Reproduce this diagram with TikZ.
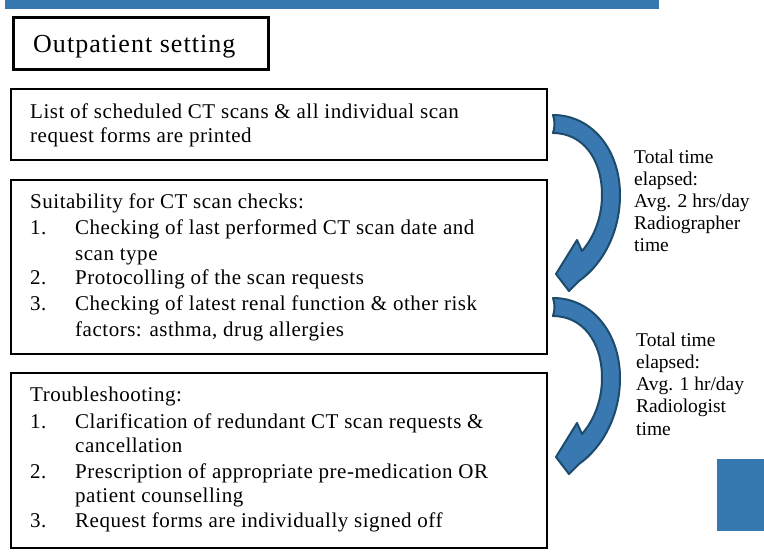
\documentclass[tikz,border=0pt]{standalone}
\usepackage{fontspec}
\setmainfont{Liberation Serif}
\newfontfamily\bodyfont[LetterSpace=2.5]{Liberation Serif}
\newfontfamily\titlefont[LetterSpace=4]{Liberation Serif}
\definecolor{barblue}{HTML}{3578B0}
\definecolor{arrowfill}{HTML}{3A78B1}
\definecolor{arrowedge}{HTML}{1D4B6B}
\tikzset{
  box/.style={draw=black, line width=2pt, anchor=north west, inner sep=0pt},
  txt/.style={anchor=base west, inner sep=0pt, font=\bodyfont\fontsize{21}{24}\selectfont},
  side/.style={anchor=base west, inner sep=0pt, font=\fontsize{19.5}{22}\selectfont},
  curvearrow/.style={fill=arrowfill, draw=arrowedge, line width=2pt, line join=round},
}
\newcommand{\myarrow}{%
  \path[curvearrow] (553,115) .. controls (592,115) and (620,150) .. (620,195)
    .. controls (620,232) and (603,264) .. (579,281)
    -- (569,291) -- (556,274) -- (577,240) -- (582,251)
    .. controls (595,236) and (602,216) .. (602,195)
    .. controls (602,158) and (582,133) .. (553,133)
    .. controls (555,127) and (555,121) .. cycle;}
\begin{document}
\begin{tikzpicture}[x=1pt,y=-1pt]
\useasboundingbox (0,0) rectangle (764,552);
\fill[white] (0,0) rectangle (764,552);
% top bar and corner block
\node[fill=barblue, anchor=north west, minimum width=654pt, minimum height=9pt, inner sep=0pt] (bar) at (5,0) {};
\node[fill=barblue, anchor=north west, minimum width=47pt, minimum height=72pt, inner sep=0pt] (block) at (717,459) {};
% title box
\node[box, line width=3pt, minimum width=255pt, minimum height=52pt] (title) at (12,16) {};
\node[anchor=base west, inner sep=0pt, font=\titlefont\fontsize{26}{30}\selectfont] (titletext) at (33,52) {Outpatient setting};
% boxes
\node[box, minimum width=536pt, minimum height=71pt] (b1) at (10,88) {};
\node[box, minimum width=536pt, minimum height=174pt] (b2) at (10,179) {};
\node[box, minimum width=536pt, minimum height=175pt] (b3) at (10,372) {};
% box 1 text
\node[txt] (a1) at (30,118) {List of scheduled CT scans \& all individual scan};
\node[txt] (a2) at (30,142) {request forms are printed};
% box 2 text
\node[txt] (c0) at (30,208) {Suitability for CT scan checks:};
\node[txt] (c1n) at (30,234) {1.};
\node[txt] (c1) at (75,234) {Checking of last performed CT scan date and};
\node[txt] (c1b) at (75,260) {scan type};
\node[txt] (c2n) at (30,284) {2.};
\node[txt] (c2) at (75,284) {Protocolling of the scan requests};
\node[txt] (c3n) at (30,310) {3.};
\node[txt] (c3) at (75,310) {Checking of latest renal function \& other risk};
\node[txt] (c3b) at (75,336) {factors: asthma, drug allergies};
% box 3 text
\node[txt] (d0) at (30,401) {Troubleshooting:};
\node[txt] (d1n) at (30,428) {1.};
\node[txt] (d1) at (75,428) {Clarification of redundant CT scan requests \&};
\node[txt] (d1b) at (75,452) {cancellation};
\node[txt] (d2n) at (30,478) {2.};
\node[txt] (d2) at (75,478) {Prescription of appropriate pre-medication OR};
\node[txt] (d2b) at (75,502) {patient counselling};
\node[txt] (d3n) at (30,527) {3.};
\node[txt] (d3) at (75,527) {Request forms are individually signed off};
% arrows
\myarrow
\begin{scope}[shift={(0,183)}]
\myarrow
\end{scope}
% side texts
\node[side] (s1) at (634,163) {Total time};
\node[side] (s2) at (634,185) {elapsed:};
\node[side] (s3) at (634,207) {Avg. 2 hrs/day};
\node[side] (s4) at (634,229) {Radiographer};
\node[side] (s5) at (634,251) {time};
\node[side] (r1) at (636,346) {Total time};
\node[side] (r2) at (636,368) {elapsed:};
\node[side] (r3) at (636,390) {Avg. 1 hr/day};
\node[side] (r4) at (636,412) {Radiologist};
\node[side] (r5) at (636,435) {time};
\end{tikzpicture}
\end{document}
